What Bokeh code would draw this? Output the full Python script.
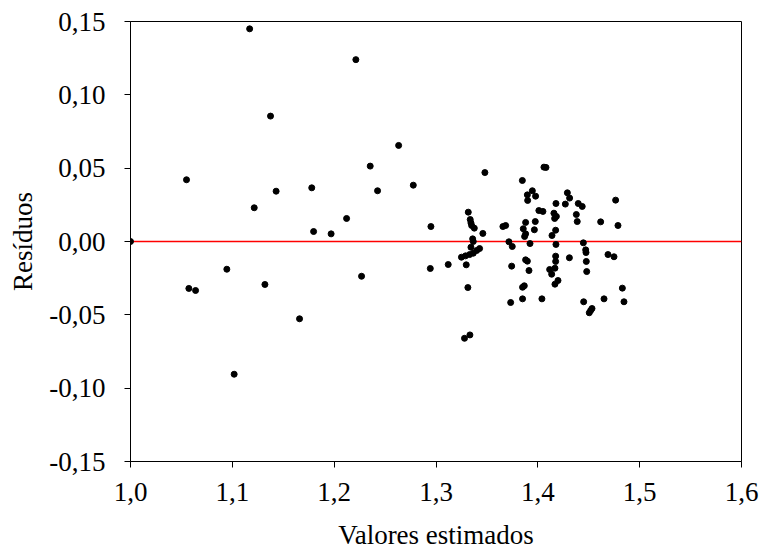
from bokeh.plotting import figure
from bokeh.models import FixedTicker, CustomJSTickFormatter, ColumnDataSource
from bokeh.embed import file_html
from bokeh.resources import INLINE

fitted = [1.000, 1.055, 1.0573, 1.0639, 1.0946, 1.1018, 1.117, 1.1215, 1.132, 1.1375,
          1.143, 1.166, 1.178, 1.1798, 1.197, 1.2122, 1.2213, 1.2269, 1.2354, 1.2426,
          1.2633, 1.2777, 1.2944, 1.295, 1.312, 1.325, 1.329, 1.3297, 1.3313, 1.3317,
          1.333, 1.3333, 1.3336, 1.3343, 1.3343, 1.335, 1.336, 1.3366, 1.3366, 1.3376,
          1.340, 1.3428, 1.346, 1.348, 1.3657, 1.3684, 1.3716, 1.3733, 1.3743, 1.3749,
          1.3848, 1.385, 1.385, 1.3857, 1.3867, 1.387, 1.388, 1.388, 1.388, 1.3897,
          1.3897, 1.39, 1.3913, 1.3923, 1.3946, 1.3966, 1.3975, 1.3978, 1.401, 1.404,
          1.405, 1.406, 1.408, 1.4116, 1.4136, 1.4139, 1.4158, 1.4165, 1.4168, 1.4168,
          1.4175, 1.4175, 1.4175, 1.4178, 1.4178, 1.4182, 1.4198, 1.427, 1.429, 1.431,
          1.4312, 1.4378, 1.4387, 1.4397, 1.4436, 1.4447, 1.445, 1.447, 1.4473, 1.4476,
          1.448, 1.4505, 1.4519, 1.4532, 1.4617, 1.465, 1.4689, 1.4748, 1.4764, 1.4787,
          1.483, 1.4846, 1.328]
residuals = [0.000, 0.0421, -0.032, -0.0334, -0.0189, -0.0905, 0.145, 0.023, -0.0293, 0.0855,
             0.0343, -0.0527, 0.0366, 0.0068, 0.0052, 0.0157, 0.124, -0.0237, 0.0514, 0.0346,
             0.0655, 0.0384, -0.0184, 0.0102, -0.0157, -0.0107, -0.0098, -0.0159, -0.0314, 0.020,
             -0.0089, -0.0637, 0.015, 0.0127, -0.0039, 0.0109, 0.0018, 0.000, -0.008, 0.0091,
             -0.0061, -0.0048, 0.0055, 0.047, 0.0102, 0.0109, -0.0002, -0.0416, -0.0168, -0.0034,
             0.0416, -0.0312, -0.0391, 0.0087, -0.0302, 0.0034, 0.013, 0.0052, -0.0125, 0.0318,
             -0.0134, 0.028, -0.0198, -0.0014, 0.0346, 0.008, 0.0136, 0.0309, 0.0211, -0.0391,
             0.0205, 0.0507, 0.0505, -0.0191, -0.0223, 0.0041, 0.0193, 0.0157, -0.0182, -0.0291,
             0.0077, -0.010, -0.0136, 0.0259, -0.002, 0.0171, -0.0266, 0.0255, 0.0332, -0.0111,
             0.0296, 0.0184, 0.0136, 0.0259, 0.0239, -0.0009, -0.0411, -0.0057, -0.0075, -0.0136,
             -0.0205, -0.0486, -0.047, -0.0457, 0.0134, -0.0391, -0.0089, -0.0104, 0.0282, 0.0109,
             -0.0318, -0.0411, -0.066]

x_ticks = [1.0, 1.1, 1.2, 1.3, 1.4, 1.5, 1.6]
y_ticks = [-0.15, -0.10, -0.05, 0.0, 0.05, 0.10, 0.15]
zero_line = [0.0]

src = ColumnDataSource(dict(x=fitted, y=residuals))

FONT = "'Liberation Serif', 'DejaVu Serif', serif"

p = figure(width=763, height=553, output_backend="svg", toolbar_location=None,
           x_range=(x_ticks[0], x_ticks[-1]), y_range=(y_ticks[0], y_ticks[-1]),
           min_border_left=130, min_border_right=22, min_border_top=21, min_border_bottom=92)
p.background_fill_color = "white"
p.border_fill_color = "white"
p.outline_line_color = "black"
p.outline_line_width = 1
p.xgrid.visible = False
p.ygrid.visible = False

p.segment(x0=[x_ticks[0]], x1=[x_ticks[-1]], y0=zero_line, y1=zero_line,
          line_color="#ff0000", line_width=1.5)
p.scatter("x", "y", source=src, size=6, color="black")

p.xaxis.ticker = FixedTicker(ticks=x_ticks)
p.yaxis.ticker = FixedTicker(ticks=y_ticks)
p.xaxis.formatter = CustomJSTickFormatter(code="return tick.toFixed(1).replace('.', ',');")
p.yaxis.formatter = CustomJSTickFormatter(
    code="if (Math.abs(tick) < 1e-9) { return '0,00'; } return tick.toFixed(2).replace('.', ',');")

for ax in (p.xaxis, p.yaxis):
    ax.axis_line_color = "black"
    ax.major_tick_line_color = "black"
    ax.major_tick_in = 0
    ax.major_tick_out = 6
    ax.minor_tick_line_color = None
    ax.major_label_text_font = FONT
    ax.major_label_text_font_size = "27px"
    ax.major_label_text_color = "black"
    ax.major_label_text_line_height = 1.0
    ax.axis_label_text_font = FONT
    ax.axis_label_text_font_size = "27px"
    ax.axis_label_text_font_style = "normal"
    ax.axis_label_text_color = "black"
    ax.axis_label_text_line_height = 1.0

p.xaxis.axis_label = "Valores estimados"
p.yaxis.axis_label = "Resíduos"
p.xaxis.major_label_standoff = 15
p.xaxis.axis_label_standoff = 16
p.yaxis.major_label_standoff = 19
p.yaxis.axis_label_standoff = 8

open("out.html", "w").write(file_html(p, INLINE))
